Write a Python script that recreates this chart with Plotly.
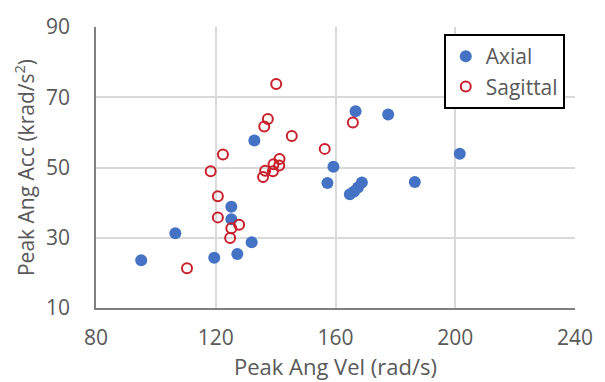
import plotly.graph_objects as go

# Peak angular velocity (rad/s) and peak angular acceleration (krad/s^2)
axial_vel = [95.1, 106.5, 119.5, 125.2, 125.2, 127.2, 132.0, 132.9, 157.3, 159.3,
             166.7, 177.6, 201.5, 186.5, 168.8, 167.5, 166.2, 164.8]
axial_acc = [23.6, 31.3, 24.3, 38.8, 35.3, 25.4, 28.7, 57.7, 45.6, 50.2,
             66.0, 65.1, 53.9, 45.9, 45.7, 44.3, 43.2, 42.4]

sagittal_vel = [110.4, 120.7, 120.7, 125.2, 124.8, 127.8, 140.2, 137.4, 136.2, 145.4,
                156.4, 122.4, 118.3, 165.8, 141.3, 139.3, 141.2, 139.1, 136.5, 135.8]
sagittal_acc = [21.3, 41.8, 35.8, 32.7, 29.9, 33.7, 73.8, 63.8, 61.7, 59.0,
                55.3, 53.7, 48.9, 62.8, 52.4, 50.9, 50.6, 48.9, 49.1, 47.3]

x_ticks = [80, 120, 160, 200, 240]
y_ticks = [10, 30, 50, 70, 90]

BLUE = "#4472C4"
RED = "#C8202A"
TEXT = "#595959"
GRID = "#D9D9D9"
FONT = "Open Sans"

fig = go.Figure()
fig.add_trace(go.Scatter(
    x=axial_vel, y=axial_acc, mode="markers", name="Axial",
    marker=dict(symbol="circle", size=12, color=BLUE, line=dict(width=0)),
))
fig.add_trace(go.Scatter(
    x=sagittal_vel, y=sagittal_acc, mode="markers", name="Sagittal",
    marker=dict(symbol="circle-open", size=10, color=RED, line=dict(width=2, color=RED)),
))

fig.update_layout(
    width=605, height=382,
    margin=dict(l=96, r=28, t=19, b=74),
    paper_bgcolor="white", plot_bgcolor="white",
    font=dict(family=FONT, size=21, color=TEXT),
    showlegend=True,
    legend=dict(
        x=0.726, y=0.975, xanchor="left", yanchor="top",
        bordercolor="black", borderwidth=2, bgcolor="white",
        font=dict(family=FONT, size=21, color=TEXT),
        itemwidth=30, tracegroupgap=0,
    ),
    xaxis=dict(
        range=[80, 240], tickvals=x_ticks, ticktext=[str(v) for v in x_ticks],
        showgrid=True, gridcolor=GRID, gridwidth=1.5,
        showline=True, linecolor="#7F7F7F", linewidth=1.5,
        zeroline=False, ticks="", ticklabelstandoff=10,
        title=dict(text="Peak Ang Vel (rad/s)", font=dict(size=22, color=TEXT), standoff=0),
    ),
    yaxis=dict(
        range=[10, 90], tickvals=y_ticks, ticktext=[str(v) for v in y_ticks],
        showgrid=True, gridcolor=GRID, gridwidth=1.5,
        showline=True, linecolor="#7F7F7F", linewidth=1.5,
        zeroline=False, ticks="", ticklabelstandoff=20,
        title=dict(text="Peak Ang Acc (krad/s<sup>2</sup>)", font=dict(size=21, color=TEXT), standoff=6),
    ),
)

fig.write_html("out.html")
